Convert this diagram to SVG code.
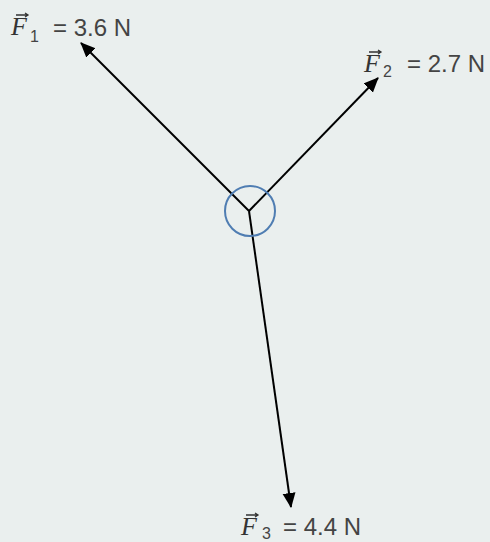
<svg xmlns="http://www.w3.org/2000/svg" width="490" height="542" viewBox="0 0 490 542">
<style>
.vec{stroke:#000;stroke-width:2;fill:none;marker-end:url(#ah)}
.sym{font-family:"Liberation Serif","DejaVu Serif",serif;font-style:italic;font-size:26px;fill:#333}
.sub{font-family:"Liberation Sans","DejaVu Sans",sans-serif;font-size:16px;fill:#444}
.val{font-family:"Liberation Sans","DejaVu Sans",sans-serif;font-size:24px;fill:#444}
.acc{stroke:#333;stroke-width:1.3;fill:none}
</style>
<defs>
<marker id="ah" markerUnits="userSpaceOnUse" markerWidth="16" markerHeight="14" refX="14" refY="6.5" orient="auto">
<path d="M0,0 L15,6.5 L0,13 z" fill="#000"/>
</marker>
</defs>
<rect width="490" height="542" fill="#eaefee"/>
<g id="connectors">
<line class="vec" x1="249" y1="211" x2="81" y2="43"/>
<line class="vec" x1="249" y1="211" x2="378" y2="78"/>
<line class="vec" x1="249" y1="211" x2="291" y2="507"/>
</g>
<g id="point">
<circle cx="250" cy="211" r="25" fill="none" stroke="#4f7db2" stroke-width="2"/>
</g>
<g id="F1">
<text class="sym" x="11" y="35">F</text>
<path class="acc" d="M16,15 L28,15 M25,13 L28,15 L25,17"/>
<text class="sub" x="30" y="42">1</text>
<text class="val" x="53" y="36">= 3.6 N</text>
</g>
<g id="F2">
<text class="sym" x="364" y="72">F</text>
<path class="acc" d="M369,52 L381,52 M378,50 L381,52 L378,54"/>
<text class="sub" x="383" y="77">2</text>
<text class="val" x="407" y="72">= 2.7 N</text>
</g>
<g id="F3">
<text class="sym" x="241" y="535">F</text>
<path class="acc" d="M246,515 L258,515 M255,513 L258,515 L255,517"/>
<text class="sub" x="262" y="539">3</text>
<text class="val" x="283" y="535">= 4.4 N</text>
</g>
</svg>
